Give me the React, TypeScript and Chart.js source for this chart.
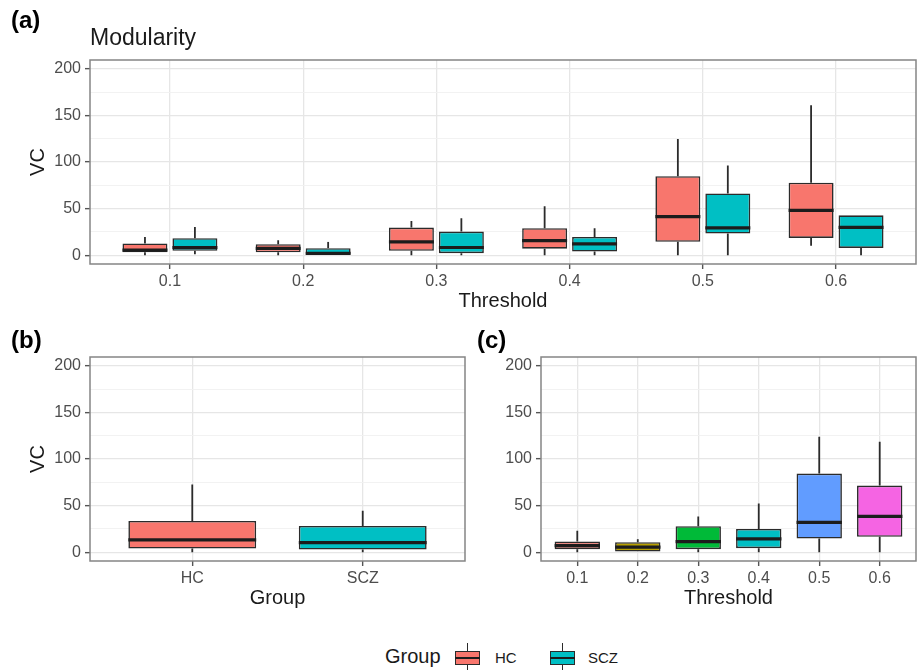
import React, { useEffect, useRef } from "react";
import { Chart, registerables } from "chart.js";

Chart.register(...registerables);

// ---------- data ----------
const thresholds = ["0.1", "0.2", "0.3", "0.4", "0.5", "0.6"];
const groups = ["HC", "SCZ"];

// (a) Modularity by threshold and group
const hcMin = [0, 0, 0, 0, 0, 10];
const hcQ1 = [3, 3, 4.6, 7, 14.3, 18.5];
const hcMed = [5.3, 7.2, 14.2, 15.7, 41.4, 48.1];
const hcQ3 = [12.5, 11.8, 29.6, 28.9, 84.8, 77.7];
const hcMax = [19.6, 16, 36.7, 52.4, 124.8, 161];

const sczMin = [1, 0, 0, 0, 0, 0];
const sczQ1 = [4.6, 0, 2.1, 3.9, 23.2, 7.8];
const sczMed = [8.2, 1.8, 8.2, 12.1, 29.2, 29.9];
const sczQ3 = [18.2, 7.5, 25.3, 19.6, 66.3, 42.8];
const sczMax = [30.3, 14.2, 39.6, 28.9, 96.3, 42.8];

// (b) by group
const grpMin = [0, 0];
const grpQ1 = [3.9, 2.8];
const grpMed = [13.2, 10.3];
const grpQ3 = [33.5, 28.1];
const grpMax = [72.6, 44.5];

// (c) by threshold
const thrMin = [0, 0, 0, 0, 0, 0];
const thrQ1 = [3.2, 0, 3.2, 4.3, 14.6, 16.4];
const thrMed = [7, 5.3, 11.4, 14.2, 32, 38.4];
const thrQ3 = [11.3, 10.7, 27.8, 24.9, 84.3, 71.5];
const thrMax = [23, 13.9, 38.4, 52.3, 123.8, 118.5];

const yTicks = [0, 25, 50, 75, 100, 125, 150, 175, 200];

const HC_COLOR = "#F8766D";
const SCZ_COLOR = "#00BFC4";
const thrColors = ["#F8766D", "#B79F00", "#00BA38", "#00BFC4", "#619CFF", "#F564E3"];

const FONT = "'Liberation Sans', Arial, Helvetica, sans-serif";

// ---------- plugins ----------
const boxPlugin = {
  id: "boxWhiskers",
  afterDatasetsDraw(chart: any) {
    const ctx = chart.ctx;
    const ys = chart.scales.y;
    chart.data.datasets.forEach((ds: any, di: number) => {
      const meta = chart.getDatasetMeta(di);
      meta.data.forEach((bar: any, i: number) => {
        const { x, width } = bar.getProps(["x", "width"], true);
        const q1 = ds.data[i].y[0];
        const q3 = ds.data[i].y[1];
        const mn = ds.whiskerMin[i];
        const mx = ds.whiskerMax[i];
        const md = ds.median[i];
        ctx.save();
        ctx.strokeStyle = "#2b2b2b";
        ctx.lineWidth = 1.8;
        ctx.beginPath();
        if (mx > q3) {
          ctx.moveTo(x, ys.getPixelForValue(q3));
          ctx.lineTo(x, ys.getPixelForValue(mx));
        }
        if (mn < q1) {
          ctx.moveTo(x, ys.getPixelForValue(q1));
          ctx.lineTo(x, ys.getPixelForValue(mn));
        }
        ctx.stroke();
        ctx.lineWidth = 3.2;
        ctx.strokeStyle = "#1c1c1c";
        ctx.beginPath();
        const my = ys.getPixelForValue(md);
        ctx.moveTo(x - width / 2, my);
        ctx.lineTo(x + width / 2, my);
        ctx.stroke();
        ctx.restore();
      });
    });
  },
};

const borderPlugin = {
  id: "panelBorder",
  afterDraw(chart: any) {
    const { ctx, chartArea } = chart;
    ctx.save();
    ctx.strokeStyle = "#858585";
    ctx.lineWidth = 1.5;
    ctx.strokeRect(chartArea.left, chartArea.top, chartArea.right - chartArea.left, chartArea.bottom - chartArea.top);
    ctx.restore();
  },
};

// ---------- options builder ----------
function makeOptions(p: {
  labels: string[];
  xTitle: string;
  yTitle: string | null;
  yWidth: number;
  xHeight: number;
  padding: any;
  catPct: number;
  barPct: number;
}) {
  return {
    responsive: false,
    animation: false as const,
    devicePixelRatio: 1,
    layout: { padding: p.padding },
    categoryPercentage: p.catPct,
    barPercentage: p.barPct,
    plugins: { legend: { display: false }, tooltip: { enabled: false }, title: { display: false } },
    scales: {
      x: {
        type: "linear",
        min: 0.4,
        max: p.labels.length + 0.6,
        offset: false,
        afterBuildTicks: (s: any) => {
          s.ticks = p.labels.map((_, i) => ({ value: i + 1 }));
        },
        afterFit: (s: any) => {
          s.height = p.xHeight;
        },
        ticks: {
          autoSkip: false,
          maxRotation: 0,
          padding: 3,
          color: "#4D4D4D",
          font: { family: FONT, size: 16 },
          callback: (v: number) => p.labels[Math.round(v) - 1] ?? "",
        },
        grid: {
          offset: false,
          color: "#E6E6E6",
          lineWidth: 1.3,
          tickLength: 5,
          tickColor: "#555555",
          tickWidth: 1.4,
        },
        border: { display: false },
        title: {
          display: true,
          text: p.xTitle,
          color: "#1a1a1a",
          font: { family: FONT, size: 20 },
          padding: 0,
        },
      },
      y: {
        type: "linear",
        min: -9.5,
        max: 209.5,
        afterBuildTicks: (s: any) => {
          s.ticks = yTicks.map((v) => ({ value: v }));
        },
        afterFit: (s: any) => {
          s.width = p.yWidth;
        },
        ticks: {
          padding: 4,
          color: "#4D4D4D",
          font: { family: FONT, size: 16 },
          callback: (v: number) => (v % 50 === 0 ? String(v) : ""),
        },
        grid: {
          color: (c: any) => (c.tick && c.tick.value % 50 === 0 ? "#E6E6E6" : "#F1F1F1"),
          lineWidth: (c: any) => (c.tick && c.tick.value % 50 === 0 ? 1.3 : 0.9),
          tickLength: 5,
          tickColor: (c: any) => (c.tick && c.tick.value % 50 === 0 ? "#555555" : "rgba(0,0,0,0)"),
          tickWidth: 1.4,
        },
        border: { display: false },
        title: {
          display: p.yTitle !== null,
          text: p.yTitle ?? "",
          color: "#1a1a1a",
          font: { family: FONT, size: 20 },
          padding: 0,
        },
      },
    },
  };
}

function boxDataset(label: string, colors: string | string[], q1: number[], q3: number[], mn: number[], md: number[], mx: number[]) {
  return {
    label,
    data: q1.map((v, i) => ({ x: i + 1, y: [v, q3[i]] })),
    backgroundColor: colors,
    borderColor: "#2b2b2b",
    borderWidth: 1.6,
    borderSkipped: false,
    whiskerMin: mn,
    whiskerMax: mx,
    median: md,
  };
}

function useChart(ref: React.RefObject<HTMLCanvasElement>, config: () => any) {
  useEffect(() => {
    if (!ref.current) return;
    const chart = new Chart(ref.current, config());
    return () => chart.destroy();
  }, []);
}

export default function App() {
  const refA = useRef<HTMLCanvasElement>(null);
  const refB = useRef<HTMLCanvasElement>(null);
  const refC = useRef<HTMLCanvasElement>(null);

  useChart(refA, () => ({
    type: "bar",
    data: {
      datasets: [
        boxDataset(groups[0], HC_COLOR, hcQ1, hcQ3, hcMin, hcMed, hcMax),
        boxDataset(groups[1], SCZ_COLOR, sczQ1, sczQ3, sczMin, sczMed, sczMax),
      ],
    },
    options: makeOptions({
      labels: thresholds,
      xTitle: "Threshold",
      yTitle: "VC",
      yWidth: 64,
      xHeight: 49,
      padding: { left: 26, right: 5, top: 60, bottom: 7 },
      catPct: 0.75,
      barPct: 0.9,
    }),
    plugins: [boxPlugin, borderPlugin],
  }));

  useChart(refB, () => ({
    type: "bar",
    data: {
      datasets: [boxDataset("Group", [HC_COLOR, SCZ_COLOR], grpQ1, grpQ3, grpMin, grpMed, grpMax)],
    },
    options: makeOptions({
      labels: groups,
      xTitle: "Group",
      yTitle: "VC",
      yWidth: 64,
      xHeight: 49,
      padding: { left: 26, right: 5, top: 37, bottom: 10 },
      catPct: 0.75,
      barPct: 1,
    }),
    plugins: [boxPlugin, borderPlugin],
  }));

  useChart(refC, () => ({
    type: "bar",
    data: {
      datasets: [boxDataset("Threshold", thrColors, thrQ1, thrQ3, thrMin, thrMed, thrMax)],
    },
    options: makeOptions({
      labels: thresholds,
      xTitle: "Threshold",
      yTitle: null,
      yWidth: 71,
      xHeight: 49,
      padding: { left: 0, right: 5, top: 37, bottom: 10 },
      catPct: 0.75,
      barPct: 1,
    }),
    plugins: [boxPlugin, borderPlugin],
  }));

  const abs = (l: number, t: number, extra: any = {}) => ({ position: "absolute" as const, left: l, top: t, lineHeight: 1, whiteSpace: "nowrap" as const, ...extra });

  const key = (l: number, color: string) => (
    <div style={abs(l, 643, { width: 25, height: 27 })}>
      <div style={{ position: "absolute", left: 11.5, top: 0, width: 1.8, height: 27, background: "#2b2b2b" }} />
      <div style={{ position: "absolute", left: 0, top: 8, width: 25, height: 14, boxSizing: "border-box", border: "1.6px solid #2b2b2b", background: color }} />
      <div style={{ position: "absolute", left: 0, top: 13.5, width: 25, height: 2.5, background: "#1c1c1c" }} />
    </div>
  );

  return (
    <div style={{ position: "fixed", left: 0, top: 0, width: 921, height: 671, background: "#fff", fontFamily: FONT, color: "#1a1a1a", overflow: "hidden" }}>
      <canvas ref={refA} width={921} height={320} style={{ position: "absolute", left: 0, top: 0, width: 921, height: 320 }} />
      <canvas ref={refB} width={470} height={300} style={{ position: "absolute", left: 0, top: 320, width: 470, height: 300 }} />
      <canvas ref={refC} width={451} height={300} style={{ position: "absolute", left: 470, top: 320, width: 451, height: 300 }} />

      <div style={abs(11, 8, { fontSize: 24, fontWeight: "bold", color: "#000" })}>(a)</div>
      <div style={abs(90, 25.5, { fontSize: 23 })}>Modularity</div>
      <div style={abs(11, 328, { fontSize: 24, fontWeight: "bold", color: "#000" })}>(b)</div>
      <div style={abs(477, 328, { fontSize: 24, fontWeight: "bold", color: "#000" })}>(c)</div>

      <div style={abs(385, 646, { fontSize: 20 })}>Group</div>
      {key(455, HC_COLOR)}
      <div style={abs(495, 650, { fontSize: 15 })}>HC</div>
      {key(550, SCZ_COLOR)}
      <div style={abs(588, 650, { fontSize: 15 })}>SCZ</div>
    </div>
  );
}
